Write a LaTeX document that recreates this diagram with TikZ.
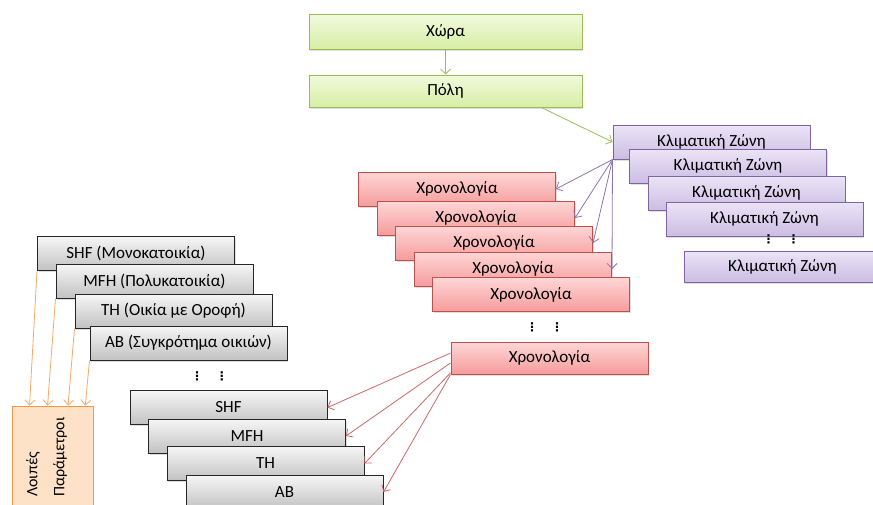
\documentclass[tikz,border=0pt]{standalone}
\usepackage{fontspec}
\setmainfont{Carlito}
\newfontfamily\symfont{DejaVu Sans}
\usetikzlibrary{arrows.meta,shadows,calc}

\definecolor{grnline}{HTML}{9BBB59}
\definecolor{grntop}{HTML}{F1FADD}
\definecolor{grnbot}{HTML}{D6EEA5}
\definecolor{purline}{HTML}{8064A2}
\definecolor{purtop}{HTML}{EBE4F6}
\definecolor{purbot}{HTML}{CBBDE3}
\definecolor{redline}{HTML}{C0504D}
\definecolor{redtop}{HTML}{FFD6D6}
\definecolor{redbot}{HTML}{F59C9C}
\definecolor{gretop}{HTML}{F6F6F6}
\definecolor{grebot}{HTML}{C2C2C2}
\definecolor{oraline}{HTML}{F79646}
\definecolor{orafill}{HTML}{FDE2C8}

\begin{document}
\begin{tikzpicture}[x=1pt, y=-1pt, every node/.style={font=\fontsize{17}{19}\selectfont},
	>={Straight Barb[length=5pt,width=10pt]},
	box/.style={rectangle, inner sep=0pt, minimum width=197pt, minimum height=34pt, line width=1pt,
		drop shadow={opacity=0.25, shadow xshift=1pt, shadow yshift=-1.5pt}},
	greenbox/.style={box, draw=grnline, top color=grntop, bottom color=grnbot, minimum width=273pt},
	purplebox/.style={box, draw=purline, top color=purtop, bottom color=purbot},
	redbox/.style={box, draw=redline, top color=redtop, bottom color=redbot},
	greybox/.style={box, draw=black!85, top color=gretop, bottom color=grebot},
	orangebox/.style={box, draw=oraline, fill=orafill, minimum width=81pt, minimum height=114pt},
	dots/.style={font=\symfont\bfseries\fontsize{12}{13}\selectfont, inner sep=0pt},
	link/.style={->, line width=0.8pt}]
	\useasboundingbox (0,0) rectangle (873,504);

	% top level
	\node[greenbox, minimum height=35pt] (country) at (445.5,31.5) {Χώρα};
	\node[greenbox, minimum height=32pt] (city) at (445.5,91) {Πόλη};

	% climate zones
	\foreach \x/\y [count=\i] in {711.5/142, 728/166, 746.5/193, 764.5/219}
		\node[purplebox] (p\i) at (\x,\y) {Κλιματική Ζώνη};
	\node[dots] (pdots) at (781,239) {⋮\hspace{13pt}⋮};
	\node[purplebox, minimum height=31pt] (p5) at (782.5,266.5) {Κλιματική Ζώνη};

	% chronology
	\foreach \x/\y [count=\i] in {457/189, 476/218, 494/243, 513/269, 531/294.5}
		\node[redbox] (r\i) at (\x,\y) {Χρονολογία};
	\node[dots] (rdots) at (544.5,327) {⋮\hspace{13pt}⋮};
	\node[redbox, minimum height=32pt] (r6) at (549.5,358) {Χρονολογία};

	% building types
	\foreach \x/\y/\t [count=\i] in {136/253.5/SHF (Μονοκατοικία), 154.5/281/MFH (Πολυκατοικία),
		173.5/311/TH (Οικία με Οροφή), 188.5/343/AB (Συγκρότημα οικιών)}
		\node[greybox] (u\i) at (\x,\y) {\t};
	\node[dots] (udots) at (209.5,376) {⋮\hspace{13pt}⋮};

	\foreach \x/\y/\t [count=\i] in {228.5/407.5/SHF, 247/436/MFH, 265.5/463.5/TH, 284.5/492/AB}
		\node[greybox] (g\i) at (\x,\y) {\t};

	% other parameters
	\node[orangebox] (other) at (52.5,463) {};
	\node[rotate=90, align=left, anchor=west, inner sep=0pt, font=\fontsize{16}{27}\selectfont]
		(othertext) at (46.5,497) {Λοιπές\\Παράμετροι};

	% connectors
	\draw[link, grnline] (country) -- (city);
	\draw[link, grnline] ($(city.south west)!0.85!(city.south east)$) -- (p1.west);
	\foreach \i in {1,...,4}
		\draw[link, purline!90] (p1.south west) -- (r\i.east);
	\foreach \i/\f in {1/0.35, 2/0.65, 3/0.95, 4/1}
		\draw[link, redline!85] ($(r6.north west)!\f!(r6.south west)$) -- (g\i.east);
	\foreach \i/\f in {1/0.22, 2/0.44, 3/0.69, 4/0.9}
		\draw[link, oraline!85] (u\i.south west) -- ($(other.north west)!\f!(other.north east)$);
\end{tikzpicture}
\end{document}
